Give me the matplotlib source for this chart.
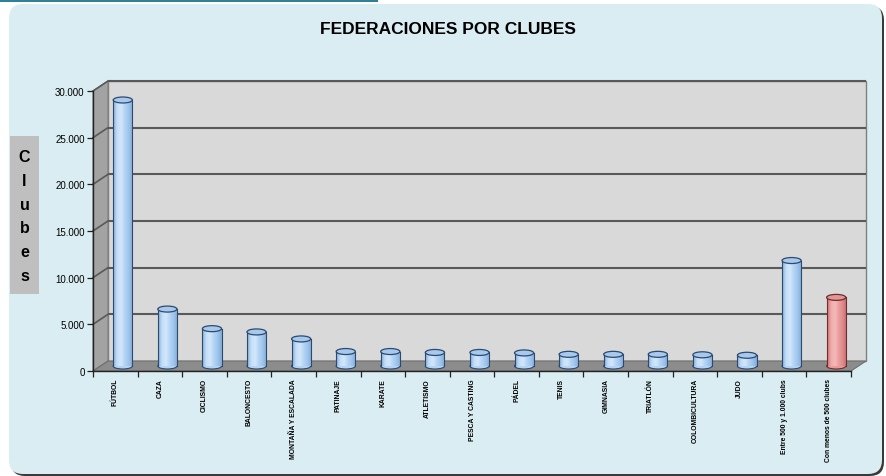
import numpy as np
import matplotlib
matplotlib.use("Agg")
import matplotlib.pyplot as plt
from matplotlib.patches import Rectangle, Polygon, Ellipse, FancyBboxPatch
from matplotlib.colors import LinearSegmentedColormap

# ---------------- data ----------------
categories = ["FÚTBOL", "CAZA", "CICLISMO", "BALONCESTO", "MONTAÑA Y ESCALADA",
              "PATINAJE", "KARATE", "ATLETISMO", "PESCA Y CASTING", "PÁDEL",
              "TENIS", "GIMNASIA", "TRIATLÓN", "COLOMBICULTURA", "JUDO",
              "Entre 500 y 1.000 clubs", "Con menos de 500 clubes"]
clubs = [28500, 6100, 4000, 3650, 2900, 1550, 1550, 1450, 1450, 1400,
         1250, 1250, 1250, 1200, 1150, 11300, 7350]
highlight = [False] * 16 + [True]
y_ticks = [0, 5000, 10000, 15000, 20000, 25000, 30000]
y_tick_labels = ["0", "5.000", "10.000", "15.000", "20.000", "25.000", "30.000"]
title = "FEDERACIONES POR CLUBES"
y_title = "Clubes"

# ---------------- figure ----------------
W, H, DPI = 886, 477, 100
fig = plt.figure(figsize=(W / DPI, H / DPI), dpi=DPI)
fig.patch.set_facecolor("white")

def px(x, y):
    """pixel (from top-left) -> display coords"""
    return (x, H - y)

# teal top strip
fig.patches.append(Rectangle(px(0, 2.5), 378, 2.5, transform=None,
                             facecolor="#2e8198", edgecolor="none", zorder=-3))
# panel shadow + panel
fig.patches.append(FancyBboxPatch(px(11, 477), 873, 470, transform=None,
                                  boxstyle="round,pad=0,rounding_size=14",
                                  facecolor="#3a3a3a", edgecolor="none", zorder=-3))
fig.patches.append(FancyBboxPatch(px(9, 475), 873, 470, transform=None,
                                  boxstyle="round,pad=0,rounding_size=14",
                                  facecolor="#daedf3", edgecolor="none", zorder=-2))

# axes: front frame
x0, x1, ytop, ybot = 93, 851, 92, 372
ax = fig.add_axes([x0 / W, 1 - ybot / H, (x1 - x0) / W, (ybot - ytop) / H])
ax.set_facecolor("none")
n = len(categories)
ymax = y_ticks[-1]
ax.set_xlim(-0.5, n - 0.5)
ax.set_ylim(0, ymax)

# depth offsets in data units
dpx, dpy = 15, 10
dx = dpx / ((x1 - x0) / n)
dy = dpy * ymax / (ybot - ytop)
xl, xr = -0.5, n - 0.5

# back wall
ax.add_patch(Rectangle((xl + dx, dy), (xr - xl), ymax, facecolor="#d9d9d9",
                       edgecolor="#7f7f7f", lw=1.0, zorder=0, clip_on=False))
# side wall
ax.add_patch(Polygon([(xl, 0), (xl + dx, dy), (xl + dx, ymax + dy), (xl, ymax)],
                     closed=True, facecolor="#a3a3a3", edgecolor="#7f7f7f",
                     lw=0.8, zorder=0.5, clip_on=False))
# grid lines (back wall + side wall)
for v in y_ticks[1:]:
    ax.plot([xl + dx, xr + dx], [v + dy, v + dy], color="#595959", lw=1.5,
            zorder=1, clip_on=False, solid_capstyle="butt")
    ax.plot([xl, xl + dx], [v, v + dy], color="#595959", lw=1.2,
            zorder=1, clip_on=False)
# floor
ax.add_patch(Polygon([(xl, 0), (xr, 0), (xr + dx, dy), (xl + dx, dy)],
                     closed=True, facecolor="#8c8c8c", edgecolor="#6f6f6f",
                     lw=0.8, zorder=1.5, clip_on=False))

# cylinders
bw = 0.43
eh = 6 * ymax / (ybot - ytop)
blue_cmap = LinearSegmentedColormap.from_list(
    "b", ["#86acd9", "#c3def8", "#d3e7fb", "#b4d4f5", "#9fc4ec", "#84abd8"])
red_cmap = LinearSegmentedColormap.from_list(
    "r", ["#cf7070", "#f0aaaa", "#f4baba", "#eb9c9c", "#df8a8a", "#c66a6a"])
grad = np.linspace(0, 1, 64).reshape(1, -1)

for i, (v, hl) in enumerate(zip(clubs, highlight)):
    cx = i + dx / 2
    base = dy / 2
    cmap = red_cmap if hl else blue_cmap
    edge = "#6b2f2f" if hl else "#2c4a6e"
    mid = "#eb9a9a" if hl else "#b4d4f5"
    topc = "#e39494" if hl else "#a7c9ee"
    ax.add_patch(Ellipse((cx, base), bw, eh, facecolor=mid, edgecolor=edge,
                         lw=0.8, zorder=3))
    bars = ax.bar([cx], [v], bottom=base, width=bw, color=mid,
                  edgecolor="none", zorder=4)
    im = ax.imshow(grad, cmap=cmap, aspect="auto", interpolation="bilinear",
                   extent=(cx - bw / 2, cx + bw / 2, base, base + v), zorder=4.5)
    im.set_clip_path(bars.patches[0])
    ax.plot([cx - bw / 2, cx - bw / 2], [base, base + v], color=edge, lw=0.8, zorder=5)
    ax.plot([cx + bw / 2, cx + bw / 2], [base, base + v], color=edge, lw=0.8, zorder=5)
    ax.add_patch(Ellipse((cx, base + v), bw, eh, facecolor=topc, edgecolor=edge,
                         lw=0.9, zorder=6))

ax.set_xlim(-0.5, n - 0.5)
ax.set_ylim(0, ymax)

# axes styling
for s in ["top", "right"]:
    ax.spines[s].set_visible(False)
for s in ["left", "bottom"]:
    ax.spines[s].set_color("#222222")
    ax.spines[s].set_linewidth(1.0)
    ax.spines[s].set_zorder(7)

narrow = ["Liberation Sans Narrow", "Liberation Sans", "DejaVu Sans"]
ax.set_yticks(y_ticks)
ax.set_yticklabels(y_tick_labels, fontsize=7, family=narrow)
ax.tick_params(axis="y", length=4, width=0.9, color="#222222", pad=2)

ax.set_xticks(np.arange(-0.5, n, 1.0))
ax.set_xticklabels([])
ax.tick_params(axis="x", which="major", length=4, width=0.9, color="#222222")
ax.set_xticks(np.arange(n), minor=True)
ax.set_xticklabels(categories, minor=True, rotation=90, fontsize=4.9,
                   fontweight="bold", family=narrow, va="top", ha="center")
ax.tick_params(axis="x", which="minor", length=0, pad=5)

# title
fig.text(448 / W, 1 - 30 / H, title, ha="center", va="center", fontsize=12.5,
         fontweight="bold", family=["Liberation Sans", "DejaVu Sans"])

# y title box
fig.patches.append(Rectangle(px(10, 295), 29, 158, transform=None,
                             facecolor="#bfbfbf", edgecolor="none", zorder=-1))
fig.text(24.5 / W, 1 - 217 / H, "\n".join(y_title), ha="center", va="center",
         fontsize=11.5, fontweight="bold", linespacing=1.72,
         family=["Liberation Sans", "DejaVu Sans"], zorder=2)

fig.savefig("out.png", dpi=DPI)
